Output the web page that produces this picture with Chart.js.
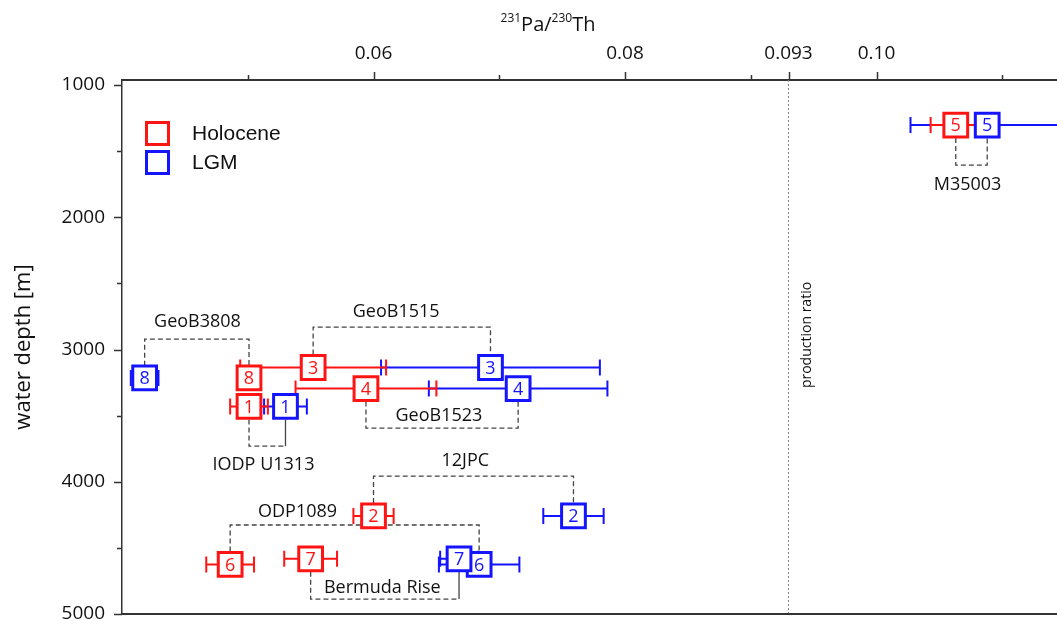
<!DOCTYPE html>
<html>
<head>
<meta charset="utf-8">
<script src="https://cdn.jsdelivr.net/npm/chart.js@4.4.1/dist/chart.umd.min.js"></script>
<style>
  html, body { margin: 0; padding: 0; background: #fff; overflow: hidden; }
</style>
</head>
<body>
<canvas id="depthChart" width="1057" height="621"></canvas>
<script>
// ---- data ----
const sampleIds = ['1', '2', '3', '4', '5', '6', '7', '8'];
const depths = [3430, 4258, 3136, 3295, 1303, 4625, 4583, 3215];
const holoceneRatio = [0.0501, 0.0600, 0.0552, 0.0594, 0.1063, 0.0486, 0.0550, 0.0501];
const holoceneErr = [0.0015, 0.0016, 0.0058, 0.0056, 0.0020, 0.0019, 0.0021, 0.0008];
const lgmRatio = [0.0530, 0.0759, 0.0693, 0.0715, 0.1088, 0.0684, 0.0668, 0.0418];
const lgmErr = [0.0017, 0.0024, 0.0087, 0.0071, 0.0061, 0.0032, 0.0015, 0.0011];

const xTicks = [0.05, 0.06, 0.07, 0.08, 0.09, 0.093, 0.10, 0.11];
const xTickLabels = ['', '0.06', '', '0.08', '', '0.093', '0.10', ''];
const yTicks = [1000, 1500, 2000, 2500, 3000, 3500, 4000, 4500, 5000];
const yTickLabels = ['1000', '', '2000', '', '3000', '', '4000', '', '5000'];

const productionRatio = 0.093;

// core sites: which sample pair they join, bracket depth and label spot (data units)
const siteNames = ['GeoB3808', 'GeoB1515', 'GeoB1523', 'IODP U1313', '12JPC', 'ODP1089', 'Bermuda Rise', 'M35003'];
const siteSample = ['8', '3', '4', '1', '2', '6', '7', '5'];
const siteLevel = [2921, 2830, 3594, 3730, 3957, 4327, 4887, 1605];
const siteLabelX = [0.0460, 0.0618, 0.0652, 0.05125, 0.0673, 0.05396, 0.0607, 0.10724];
const siteLabelY = [2792, 2716, 3503, 3873, 3843, 4229, 4803, 1756];
const siteSolidLgm = [false, false, false, true, false, false, true, false];

const RED = '#ff1414';
const BLUE = '#1414ff';
const FONT = "'Open Sans', 'DejaVu Sans', sans-serif";

const BOX_HALF = 13;

const profilePlugin = {
    id: 'profilePlugin',

    beforeDatasetsDraw(chart) {
        const { ctx, chartArea: a, scales: { x, y } } = chart;
        ctx.save();

        // production ratio (dotted line + rotated label)
        const px = x.getPixelForValue(productionRatio);
        ctx.strokeStyle = '#888';
        ctx.lineWidth = 1;
        ctx.setLineDash([2, 2]);
        ctx.beginPath();
        ctx.moveTo(px, a.top);
        ctx.lineTo(px, a.bottom);
        ctx.stroke();
        ctx.setLineDash([]);

        ctx.save();
        ctx.translate(px + 19, 335);
        ctx.rotate(-Math.PI / 2);
        ctx.fillStyle = '#111';
        ctx.font = '14px ' + FONT;
        ctx.textAlign = 'center';
        ctx.textBaseline = 'middle';
        ctx.fillText('production ratio', 0, 0);
        ctx.restore();

        // site brackets
        siteNames.forEach((name, s) => {
            const i = sampleIds.indexOf(siteSample[s]);
            const xr = x.getPixelForValue(holoceneRatio[i]);
            const xb = x.getPixelForValue(lgmRatio[i]);
            const yc = y.getPixelForValue(depths[i]);
            const yl = y.getPixelForValue(siteLevel[s]);
            const dir = yl < yc ? -1 : 1;
            const y0 = yc + dir * BOX_HALF;

            ctx.strokeStyle = '#444';
            ctx.lineWidth = 1.3;
            ctx.setLineDash([5, 3]);
            ctx.beginPath();
            ctx.moveTo(xr, y0);
            ctx.lineTo(xr, yl);
            ctx.lineTo(xb, yl);
            if (!siteSolidLgm[s]) ctx.lineTo(xb, y0);
            ctx.stroke();
            if (siteSolidLgm[s]) {
                ctx.setLineDash([]);
                ctx.beginPath();
                ctx.moveTo(xb, yl);
                ctx.lineTo(xb, y0);
                ctx.stroke();
            }
            ctx.setLineDash([]);

            ctx.fillStyle = '#111';
            ctx.font = '18px ' + FONT;
            ctx.textAlign = 'center';
            ctx.textBaseline = 'middle';
            ctx.fillText(name, x.getPixelForValue(siteLabelX[s]), y.getPixelForValue(siteLabelY[s]));
        });

        // horizontal error bars, LGM under Holocene
        const drawErr = (vals, errs, color) => {
            ctx.strokeStyle = color;
            ctx.lineWidth = 2;
            vals.forEach((v, i) => {
                const yc = y.getPixelForValue(depths[i]);
                const x1 = x.getPixelForValue(v - errs[i]);
                const x2 = x.getPixelForValue(v + errs[i]);
                ctx.beginPath();
                ctx.moveTo(x1, yc);
                ctx.lineTo(x2, yc);
                ctx.moveTo(x1, yc - 8);
                ctx.lineTo(x1, yc + 8);
                ctx.moveTo(x2, yc - 8);
                ctx.lineTo(x2, yc + 8);
                ctx.stroke();
            });
        };
        drawErr(lgmRatio, lgmErr, BLUE);
        drawErr(holoceneRatio, holoceneErr, RED);

        ctx.restore();
    },

    afterDatasetsDraw(chart) {
        const { ctx, scales: { x, y } } = chart;
        ctx.save();
        ctx.font = '18px ' + FONT;
        ctx.textAlign = 'center';
        ctx.textBaseline = 'middle';
        const drawIds = (vals, color) => {
            ctx.fillStyle = color;
            vals.forEach((v, i) => {
                ctx.fillText(sampleIds[i], x.getPixelForValue(v), y.getPixelForValue(depths[i]) + 1);
            });
        };
        drawIds(lgmRatio, BLUE);
        drawIds(holoceneRatio, RED);
        ctx.restore();
    },

    afterDraw(chart) {
        const { ctx, chartArea: a, scales: { x, y } } = chart;
        ctx.save();
        ctx.strokeStyle = '#333';
        ctx.lineWidth = 1.5;

        // tick marks (outside), long for labelled, short for minor
        ctx.beginPath();
        xTicks.forEach((v, i) => {
            const px = Math.round(x.getPixelForValue(v)) + 0.5;
            const len = xTickLabels[i] ? 8 : 5;
            ctx.moveTo(px, a.top);
            ctx.lineTo(px, a.top - len);
        });
        yTicks.forEach((v, i) => {
            const py = Math.round(y.getPixelForValue(v)) + 0.5;
            const len = yTickLabels[i] ? 8 : 5;
            ctx.moveTo(a.left, py);
            ctx.lineTo(a.left - len, py);
        });
        ctx.stroke();

        // bottom frame line
        ctx.lineWidth = 2;
        ctx.beginPath();
        ctx.moveTo(a.left, a.bottom);
        ctx.lineTo(a.right, a.bottom);
        ctx.stroke();

        // x title with superscripts: 231Pa/230Th
        const parts = [['231', true], ['Pa/', false], ['230', true], ['Th', false]];
        const fontOf = sup => (sup ? '12px ' : '20px ') + FONT;
        let total = 0;
        parts.forEach(([t, sup]) => { ctx.font = fontOf(sup); total += ctx.measureText(t).width; });
        let tx = 548 - total / 2;
        ctx.fillStyle = '#111';
        ctx.textAlign = 'left';
        ctx.textBaseline = 'alphabetic';
        parts.forEach(([t, sup]) => {
            ctx.font = fontOf(sup);
            ctx.fillText(t, tx, sup ? 22 : 31);
            tx += ctx.measureText(t).width;
        });

        // legend
        const legend = [['Holocene', RED, 133.5], ['LGM', BLUE, 162.5]];
        legend.forEach(([label, color, cy]) => {
            ctx.strokeStyle = color;
            ctx.lineWidth = 3;
            ctx.strokeRect(146.5, cy - 11, 22, 22);
            ctx.fillStyle = '#111';
            ctx.font = "21px 'Liberation Sans', Arial, sans-serif";
            ctx.textBaseline = 'middle';
            ctx.fillText(label, 192, cy + 1);
        });

        ctx.restore();
    }
};

const makeDataset = (label, vals, color) => ({
    label: label,
    data: vals.map((v, i) => ({ x: v, y: depths[i] })),
    showLine: false,
    clip: false,
    pointStyle: 'rect',
    pointRadius: 16.8,
    pointHoverRadius: 16.8,
    pointBorderWidth: 3,
    pointBorderColor: color,
    pointBackgroundColor: '#fff',
    borderColor: color,
    backgroundColor: '#fff'
});

// no extra room for end tick labels: the frame is fixed
const noScalePadding = scale => {
    scale.paddingTop = 0;
    scale.paddingBottom = 0;
    scale.paddingLeft = 0;
    scale.paddingRight = 0;
};

const ctx = document.getElementById('depthChart').getContext('2d');
new Chart(ctx, {
    type: 'scatter',
    data: {
        datasets: [
            makeDataset('Holocene', holoceneRatio, RED),
            makeDataset('LGM', lgmRatio, BLUE)
        ]
    },
    options: {
        responsive: false,
        animation: false,
        devicePixelRatio: 1,
        events: [],
        layout: { autoPadding: false, padding: { top: 0, right: 0, bottom: 7, left: 0 } },
        plugins: {
            legend: { display: false },
            tooltip: { enabled: false }
        },
        scales: {
            x: {
                type: 'linear',
                position: 'top',
                min: 0.04,
                max: 0.11435,
                afterBuildTicks: scale => { scale.ticks = xTicks.map(v => ({ value: v })); },
                afterFit: scale => { scale.height = 80; noScalePadding(scale); },
                grid: { display: false, drawTicks: false },
                border: { display: true, color: '#333', width: 2 },
                ticks: {
                    autoSkip: false,
                    maxRotation: 0,
                    padding: 15,
                    color: '#111',
                    font: { family: FONT, size: 19 },
                    callback: (value, index) => xTickLabels[index]
                }
            },
            y: {
                type: 'linear',
                reverse: true,
                min: 962,
                max: 5000,
                afterBuildTicks: scale => { scale.ticks = yTicks.map(v => ({ value: v })); },
                afterFit: scale => { scale.width = 122; noScalePadding(scale); },
                grid: { display: false, drawTicks: false },
                border: { display: true, color: '#333', width: 1.5 },
                title: {
                    display: true,
                    text: 'water depth [m]',
                    color: '#111',
                    font: { family: FONT, size: 22 },
                    padding: { top: 11, bottom: 0 }
                },
                ticks: {
                    autoSkip: false,
                    padding: 17,
                    color: '#111',
                    font: { family: FONT, size: 19 },
                    callback: (value, index) => yTickLabels[index]
                }
            }
        }
    },
    plugins: [profilePlugin]
});
</script>
</body>
</html>
